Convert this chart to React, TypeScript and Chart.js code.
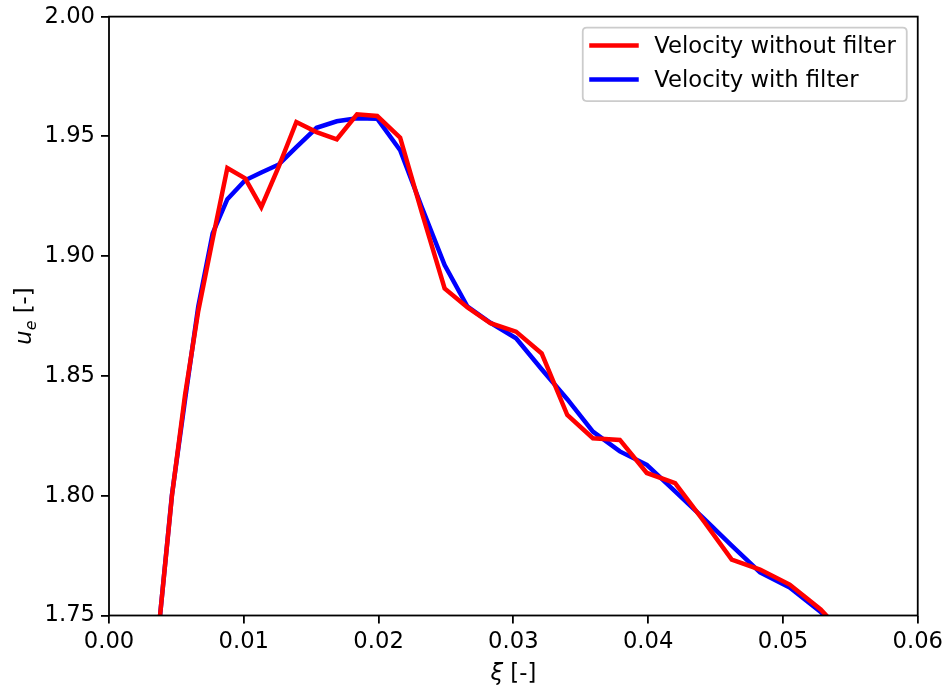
import React, { useEffect, useRef } from "react";
import { Chart, registerables } from "chart.js";

Chart.register(...registerables);

// ---- data ----
const xi: number[] = [
  0.0037, 0.00467, 0.00564, 0.00662, 0.00769, 0.00878, 0.0101, 0.0113, 0.0126, 0.0139,
  0.0154, 0.0169, 0.0184, 0.0199, 0.0216, 0.0232, 0.0249, 0.0266, 0.0283, 0.0302,
  0.0321, 0.034, 0.0359, 0.0379, 0.0399, 0.042, 0.0441, 0.0462, 0.0483, 0.0505,
  0.0528, 0.0552,
];
const velocityWithoutFilter: number[] = [
  1.745, 1.8, 1.842, 1.877, 1.907, 1.9368, 1.9325, 1.9205, 1.9375, 1.956,
  1.9518, 1.9488, 1.9592, 1.9585, 1.9495, 1.9184, 1.8865, 1.8786, 1.872, 1.8685,
  1.8594, 1.8337, 1.824, 1.8233, 1.8095, 1.8053, 1.7896, 1.7733, 1.7692, 1.7629,
  1.7525, 1.738,
];
const velocityWithFilter: number[] = [
  1.745, 1.8004, 1.84, 1.8789, 1.9095, 1.9238, 1.9317, 1.9349, 1.9383, 1.9455,
  1.9536, 1.9563, 1.9576, 1.9574, 1.9442, 1.9205, 1.8963, 1.8789, 1.8722, 1.8657,
  1.8528, 1.8403, 1.8268, 1.8185, 1.8129, 1.8018, 1.7906, 1.7792, 1.768, 1.7617,
  1.7515, 1.737,
];
const seriesLabels: string[] = ["Velocity without filter", "Velocity with filter"];
const seriesColors: string[] = ["#ff0000", "#0000ff"];
const xTitle = "ξ";
const yTitleMain = "u";
const yTitleSub = "e";
const unitText = " [-]";

const FONT = '"DejaVu Sans", "Liberation Sans", sans-serif';
const FS = 22.7;
const OFFSET_Y = -3;

const decorPlugin = {
  id: "decor",
  afterDraw(chart: any) {
    const ctx: CanvasRenderingContext2D = chart.ctx;
    const { left, top, right, bottom } = chart.chartArea;
    ctx.save();
    // frame
    ctx.strokeStyle = "#000";
    ctx.lineWidth = 1.8;
    ctx.strokeRect(left, top, right - left, bottom - top);

    // legend
    const bw = 324;
    const bh = 73.5;
    const bx = right - 11 - bw;
    const by = top + 11;
    const r = 4;
    ctx.beginPath();
    ctx.moveTo(bx + r, by);
    ctx.lineTo(bx + bw - r, by);
    ctx.quadraticCurveTo(bx + bw, by, bx + bw, by + r);
    ctx.lineTo(bx + bw, by + bh - r);
    ctx.quadraticCurveTo(bx + bw, by + bh, bx + bw - r, by + bh);
    ctx.lineTo(bx + r, by + bh);
    ctx.quadraticCurveTo(bx, by + bh, bx, by + bh - r);
    ctx.lineTo(bx, by + r);
    ctx.quadraticCurveTo(bx, by, bx + r, by);
    ctx.closePath();
    ctx.fillStyle = "rgba(255,255,255,0.8)";
    ctx.fill();
    ctx.strokeStyle = "#cccccc";
    ctx.lineWidth = 1.8;
    ctx.stroke();

    ctx.font = `${FS}px ${FONT}`;
    ctx.textBaseline = "middle";
    ctx.textAlign = "left";
    seriesLabels.forEach((lab, i) => {
      const yy = by + 18 + i * 34;
      ctx.strokeStyle = seriesColors[i];
      ctx.lineWidth = 4.5;
      ctx.beginPath();
      ctx.moveTo(bx + 6.5, yy);
      ctx.lineTo(bx + 56, yy);
      ctx.stroke();
      ctx.fillStyle = "#000";
      ctx.fillText(lab, bx + 71.5, yy + 1);
    });

    // x title
    ctx.fillStyle = "#000";
    ctx.textBaseline = "alphabetic";
    const italic = `italic ${FS}px ${FONT}`;
    const normal = `${FS}px ${FONT}`;
    ctx.font = italic;
    const wXi = ctx.measureText(xTitle).width;
    ctx.font = normal;
    const wUnit = ctx.measureText(unitText).width;
    const cx = (left + right) / 2;
    const sx = cx - (wXi + wUnit) / 2;
    const baseY = 680 - OFFSET_Y;
    ctx.font = italic;
    ctx.fillText(xTitle, sx, baseY);
    ctx.font = normal;
    ctx.fillText(unitText, sx + wXi, baseY);

    // y title (rotated)
    ctx.save();
    const cy = (top + bottom) / 2;
    ctx.translate(31, cy);
    ctx.rotate(-Math.PI / 2);
    const subFont = `italic ${FS * 0.7}px ${FONT}`;
    ctx.font = italic;
    const wU = ctx.measureText(yTitleMain).width;
    ctx.font = subFont;
    const wE = ctx.measureText(yTitleSub).width;
    ctx.font = normal;
    const wU2 = ctx.measureText(unitText).width;
    let tx = -(wU + wE + wU2) / 2;
    ctx.font = italic;
    ctx.fillText(yTitleMain, tx, 0);
    tx += wU;
    ctx.font = subFont;
    ctx.fillText(yTitleSub, tx, 5);
    tx += wE;
    ctx.font = normal;
    ctx.fillText(unitText, tx, 0);
    ctx.restore();

    ctx.restore();
  },
};

export default function App() {
  const ref = useRef<HTMLCanvasElement | null>(null);
  useEffect(() => {
    document.body.style.margin = "0";
    if (!ref.current) return;
    const mk = (ys: number[]) => xi.map((x, i) => ({ x, y: ys[i] }));
    const chart = new Chart(ref.current, {
      type: "line",
      data: {
        datasets: [
          {
            label: seriesLabels[0],
            data: mk(velocityWithoutFilter),
            borderColor: seriesColors[0],
            borderWidth: 4.5,
            pointRadius: 0,
            tension: 0,
            fill: false,
            borderJoinStyle: "miter",
          },
          {
            label: seriesLabels[1],
            data: mk(velocityWithFilter),
            borderColor: seriesColors[1],
            borderWidth: 4.5,
            pointRadius: 0,
            tension: 0,
            fill: false,
            borderJoinStyle: "miter",
          },
        ],
      },
      options: {
        animation: false,
        responsive: true,
        maintainAspectRatio: false,
        layout: { padding: { left: 0, top: 12.5, right: 27.5, bottom: 0 } },
        plugins: { legend: { display: false }, tooltip: { enabled: false } },
        scales: {
          x: {
            type: "linear",
            min: 0,
            max: 0.06,
            border: { display: false },
            grid: {
              drawOnChartArea: false,
              drawTicks: true,
              tickLength: 8,
              color: "#000",
              lineWidth: 1.8,
            },
            ticks: {
              stepSize: 0.01,
              color: "#000",
              padding: 5,
              maxRotation: 0,
              font: { family: FONT, size: FS },
              callback: (v: any) => Number(v).toFixed(2),
            },
            afterFit: (s: any) => {
              s.height = 72.5;
            },
          },
          y: {
            type: "linear",
            min: 1.75,
            max: 2.0,
            border: { display: false },
            grid: {
              drawOnChartArea: false,
              drawTicks: true,
              tickLength: 8,
              color: "#000",
              lineWidth: 1.8,
            },
            ticks: {
              stepSize: 0.05,
              color: "#000",
              padding: 6,
              font: { family: FONT, size: FS },
              callback: (v: any) => Number(v).toFixed(2),
            },
            afterFit: (s: any) => {
              s.width = 109;
            },
          },
        },
      },
      plugins: [decorPlugin],
    });
    return () => chart.destroy();
  }, []);
  return (
    <div style={{ position: "fixed", left: 0, top: OFFSET_Y, width: 948, height: 691, background: "#fff" }}>
      <canvas ref={ref} />
    </div>
  );
}
